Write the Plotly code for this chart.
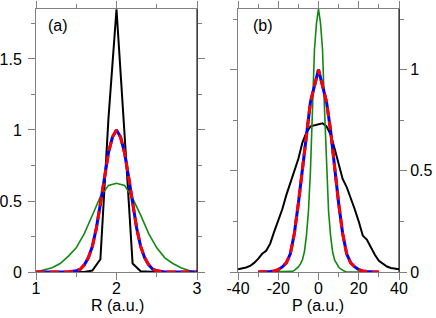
import plotly.graph_objects as go

# ---- Panel (a): R distribution ----
R = [1.0, 1.1, 1.2, 1.3, 1.4, 1.5, 1.6, 1.7, 1.8, 1.9, 2.0,
     2.1, 2.2, 2.3, 2.4, 2.5, 2.6, 2.7, 2.8, 2.9, 3.0]
black_a = [0, 0, 0, 0, 0, 0, 0, 0.01, 0.09, 1.08, 1.85,
           0.97, 0.06, 0.005, 0, 0, 0, 0, 0, 0, 0]
green_a = [0.0, 0.015, 0.03, 0.06, 0.11, 0.17, 0.27, 0.40, 0.53, 0.61, 0.625,
           0.61, 0.52, 0.40, 0.27, 0.17, 0.10, 0.06, 0.03, 0.01, 0.0]
R_rb = [1.0, 1.4, 1.5, 1.55, 1.6, 1.65, 1.7, 1.75, 1.8, 1.85, 1.9, 1.95, 2.0,
        2.05, 2.1, 2.15, 2.2, 2.25, 2.3, 2.35, 2.4, 2.45, 2.5, 2.6, 3.0]
blue_a = [0, 0, 0.008, 0.02, 0.05, 0.10, 0.18, 0.31, 0.48, 0.67, 0.84, 0.95, 1.0,
          0.95, 0.84, 0.67, 0.48, 0.31, 0.18, 0.10, 0.05, 0.02, 0.008, 0, 0]
red_a = [0, 0, 0.008, 0.02, 0.05, 0.10, 0.18, 0.31, 0.48, 0.67, 0.84, 0.95, 1.0,
         0.95, 0.84, 0.67, 0.48, 0.31, 0.18, 0.10, 0.05, 0.02, 0.008, 0, 0]

# ---- Panel (b): P distribution ----
P_black = [-40, -38, -36, -34, -32, -30, -28, -26, -24, -22, -20, -18, -16, -14,
           -12, -10, -8, -6, -4, -2, 0, 2, 4, 6, 8, 10, 12, 14, 16, 18, 20,
           22, 24, 26, 28, 30, 32, 34, 36, 38, 40]
black_b = [0.013, 0.017, 0.022, 0.03, 0.045, 0.065, 0.09, 0.105, 0.14, 0.20,
           0.25, 0.31, 0.38, 0.44, 0.50, 0.56, 0.64, 0.69, 0.72, 0.725, 0.73,
           0.735, 0.72, 0.68, 0.61, 0.53, 0.46, 0.42, 0.37, 0.31, 0.25, 0.18,
           0.16, 0.12, 0.085, 0.055, 0.04, 0.027, 0.02, 0.015, 0.013]

P_green = [-30, -14, -13, -12, -11, -10, -9, -8, -7, -6, -5, -4, -3, -2, -1, 0,
           1, 2, 3, 4, 5, 6, 7, 8, 9, 10, 11, 12, 13, 14, 30]
green_b = [0, 0, 0.003, 0.008, 0.015, 0.025, 0.04, 0.06, 0.10, 0.18, 0.30, 0.50,
           0.80, 1.10, 1.23, 1.30, 1.23, 1.10, 0.80, 0.50, 0.30, 0.18, 0.10,
           0.06, 0.04, 0.025, 0.015, 0.008, 0.003, 0, 0]

P_rb = [-30, -28, -26, -24, -22, -20, -18, -16, -14, -12, -10, -8, -6, -4, -2, 0,
        2, 4, 6, 8, 10, 12, 14, 16, 18, 20, 22, 24, 26, 28, 30]
blue_b = [0, 0, 0, 0.002, 0.005, 0.012, 0.025, 0.045, 0.09, 0.19, 0.34, 0.51,
          0.70, 0.84, 0.92, 1.0, 0.92, 0.84, 0.70, 0.51, 0.34, 0.19, 0.09,
          0.045, 0.025, 0.012, 0.005, 0.002, 0, 0, 0]
red_b = [0, 0, 0, 0.002, 0.005, 0.012, 0.025, 0.045, 0.09, 0.19, 0.34, 0.51,
         0.70, 0.84, 0.92, 1.0, 0.92, 0.84, 0.70, 0.51, 0.34, 0.19, 0.09,
         0.045, 0.025, 0.012, 0.005, 0.002, 0, 0, 0]

BLACK = "#000000"
GREEN = "#118811"
BLUE = "#0000ff"
RED = "#ff0000"
AXC = "#808080"
FONT = "Liberation Sans, Arial, sans-serif"

W, H = 436, 318


def fx(px):
    return px / W


def fy(py):
    return 1 - py / H


fig = go.Figure()


def add_panel(x_b, yb, x_g, yg, x_rb, yblue, yred, xa, ya):
    fig.add_trace(go.Scatter(x=x_b, y=yb, mode="lines", line=dict(color=BLACK, width=2),
                             xaxis=xa, yaxis=ya, showlegend=False, hoverinfo="skip"))
    fig.add_trace(go.Scatter(x=x_g, y=yg, mode="lines", line=dict(color=GREEN, width=1.6),
                             xaxis=xa, yaxis=ya, showlegend=False, hoverinfo="skip"))
    fig.add_trace(go.Scatter(x=x_rb, y=yblue, mode="lines", line=dict(color=BLUE, width=3),
                             xaxis=xa, yaxis=ya, showlegend=False, hoverinfo="skip"))
    fig.add_trace(go.Scatter(x=x_rb, y=yred, mode="lines",
                             line=dict(color=RED, width=3, dash="9px,5px"),
                             xaxis=xa, yaxis=ya, showlegend=False, hoverinfo="skip"))


add_panel(R, black_a, R, green_a, R_rb, blue_a, red_a, "x", "y")
add_panel(P_black, black_b, P_green, green_b, P_rb, blue_b, red_b, "x2", "y2")

ya_dom = [fy(272), fy(9)]

common = dict(showline=True, linecolor=AXC, linewidth=1, mirror="ticks",
              ticks="outside", ticklen=7, tickwidth=1, tickcolor=AXC,
              showgrid=False, zeroline=False, automargin=False,
              tickfont=dict(family=FONT, size=16, color="black"))

fig.update_layout(
    template="none",
    width=W, height=H,
    margin=dict(l=0, r=0, t=0, b=0, pad=0),
    paper_bgcolor="white", plot_bgcolor="white",
    xaxis=dict(domain=[fx(36), fx(197)], range=[1, 3], anchor="y",
               tickvals=[1, 2, 3], ticktext=["1", "2", "3"], ticklabelstandoff=-5,
               minor=dict(dtick=0.5, tick0=1, ticklen=4, tickcolor=AXC, ticks="outside"),
               **common),
    yaxis=dict(domain=ya_dom, range=[0, 1.852], anchor="x",
               tickvals=[0, 0.5, 1, 1.5], ticktext=["0", "0.5", "1", "1.5"],
               ticklabelstandoff=3,
               minor=dict(dtick=0.25, tick0=0, ticklen=4, tickcolor=AXC, ticks="outside"),
               **common),
    xaxis2=dict(domain=[fx(238), fx(399)], range=[-40, 40], anchor="y2",
                tickvals=[-40, -20, 0, 20, 40], ticktext=["-40", "-20", "0", "20", "40"],
                ticklabelstandoff=-5,
                minor=dict(dtick=10, tick0=0, ticklen=4, tickcolor=AXC, ticks="outside"),
                **common),
    yaxis2=dict(domain=ya_dom, range=[0, 1.30], anchor="x2", side="right",
                tickvals=[0, 0.5, 1], ticktext=["0", "0.5", "1"],
                minor=dict(dtick=0.25, tick0=0, ticklen=4, tickcolor=AXC, ticks="outside"),
                **common),
    shapes=[
        dict(type="line", xref="x domain", yref="y domain", x0=1, x1=1, y0=0, y1=1,
             line=dict(color=BLACK, width=1)),
        dict(type="line", xref="x2 domain", yref="y2 domain", x0=1, x1=1, y0=0, y1=1,
             line=dict(color=BLACK, width=1)),
    ],
    annotations=[
        dict(text="(a)", x=fx(58), y=fy(26), xref="paper", yref="paper",
             xanchor="center", yanchor="middle", showarrow=False,
             font=dict(family=FONT, size=16, color="black")),
        dict(text="(b)", x=fx(263), y=fy(26), xref="paper", yref="paper",
             xanchor="center", yanchor="middle", showarrow=False,
             font=dict(family=FONT, size=16, color="black")),
        dict(text="R (a.u.)", x=fx(117), y=fy(305), xref="paper", yref="paper",
             xanchor="center", yanchor="middle", showarrow=False,
             font=dict(family=FONT, size=16, color="black")),
        dict(text="P (a.u.)", x=fx(318), y=fy(305), xref="paper", yref="paper",
             xanchor="center", yanchor="middle", showarrow=False,
             font=dict(family=FONT, size=16, color="black")),
    ],
)

# remove the default 8px page margin so the figure starts at the window corner
fig.write_html("out.html",
               config={"displayModeBar": False},
               post_script="document.body.style.margin='0';document.body.style.overflow='hidden';")
